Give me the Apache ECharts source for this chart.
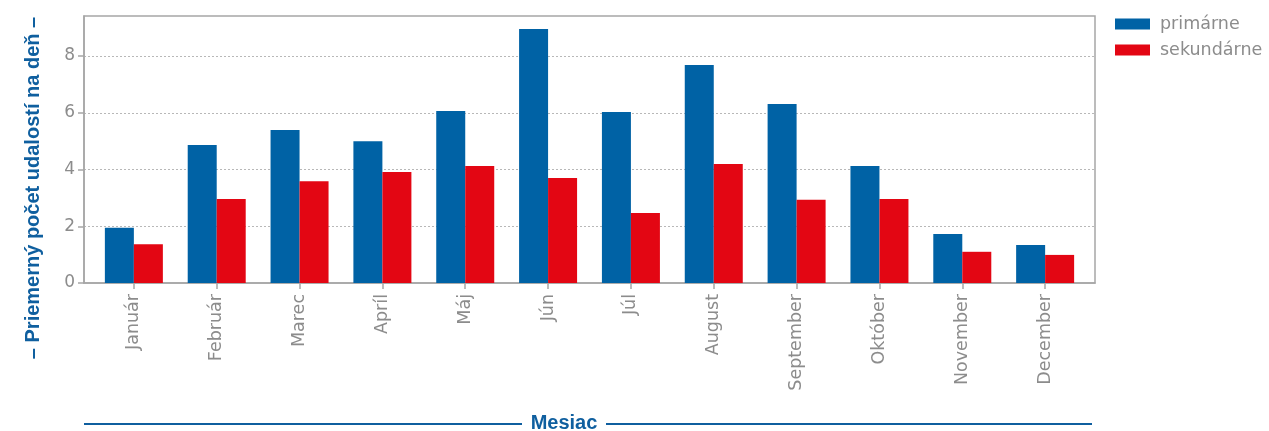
<!DOCTYPE html>
<html>
<head>
<meta charset="utf-8">
<script src="https://cdn.jsdelivr.net/npm/echarts@6/dist/echarts.min.js"></script>
<style>
html,body{margin:0;padding:0;background:#fff;}
#chart{width:1269px;height:431px;}
</style>
</head>
<body>
<div id="chart"></div>
<script>
const months = ['Január','Február','Marec','Apríl','Máj','Jún','Júl','August','September','Október','November','December'];
const primarne = [1.95, 4.86, 5.39, 5.00, 6.06, 8.95, 6.03, 7.68, 6.31, 4.12, 1.73, 1.34];
const sekundarne = [1.37, 2.96, 3.59, 3.91, 4.12, 3.70, 2.47, 4.19, 2.93, 2.96, 1.10, 0.99];
const seriesNames = ['primárne', 'sekundárne'];
const yTicks = [0, 2, 4, 6, 8];
const yTitle = '– Priemerný počet udalostí na deň –';
const xTitle = 'Mesiac';

const BLUE = '#0062a5';
const RED = '#e30613';
const TITLE = '#0f5f9f';
const GREY = '#8c8c8c';
const FRAME = '#a6a6a6';
const FONT = 'DejaVu Sans';

const chart = echarts.init(document.getElementById('chart'), null, {renderer: 'canvas'});
const idx = months.map((m, i) => i);

chart.setOption({
  animation: false,
  textStyle: {fontFamily: FONT},
  grid: {left: 84, right: 174, top: 16, bottom: 148, show: true, borderColor: FRAME, borderWidth: 1.5, containLabel: false},
  legend: {
    data: seriesNames,
    orient: 'vertical',
    left: 1110, top: 10,
    itemWidth: 35, itemHeight: 11, itemGap: 8,
    textStyle: {color: GREY, fontSize: 17.5, fontFamily: FONT, padding: [0, 0, 0, 5]},
    icon: 'rect'
  },
  xAxis: {
    type: 'value',
    min: -0.602, max: 11.602,
    axisLine: {show: true, onZero: false, lineStyle: {color: FRAME, width: 1.5}},
    axisTick: {show: true, length: 6, customValues: idx, lineStyle: {color: FRAME, width: 1.5}},
    axisLabel: {
      customValues: idx,
      rotate: 90, margin: 11,
      color: GREY, fontSize: 17.5, fontFamily: FONT,
      formatter: v => months[Math.round(v)]
    },
    splitLine: {show: false}
  },
  yAxis: {
    type: 'value',
    min: 0, max: 9.41,
    axisLine: {show: true, onZero: false, lineStyle: {color: FRAME, width: 1.5}},
    axisTick: {show: true, length: 6, customValues: yTicks, lineStyle: {color: FRAME, width: 1.5}},
    axisLabel: {customValues: yTicks, margin: 9, color: GREY, fontSize: 17, fontFamily: FONT},
    splitLine: {show: true, lineStyle: {color: '#b8b8b8', type: [2, 2], width: 1}}
  },
  series: [
    {name: seriesNames[0], type: 'bar', data: primarne.map((v, i) => [i, v]), barWidth: 29, barGap: '0%', itemStyle: {color: BLUE}},
    {name: seriesNames[1], type: 'bar', data: sekundarne.map((v, i) => [i, v]), barWidth: 29, barGap: '0%', itemStyle: {color: RED}}
  ],
  graphic: [
    {type: 'text', x: 33, y: 188, rotation: Math.PI / 2,
     style: {text: yTitle, fill: TITLE, font: 'bold 20px "Liberation Sans"', align: 'center', verticalAlign: 'middle'}},
    {type: 'text', x: 564, y: 423,
     style: {text: xTitle, fill: TITLE, font: 'bold 20px "Liberation Sans"', align: 'center', verticalAlign: 'middle'}},
    {type: 'line', shape: {x1: 84, y1: 424, x2: 522, y2: 424}, style: {stroke: TITLE, lineWidth: 2}},
    {type: 'line', shape: {x1: 606, y1: 424, x2: 1092, y2: 424}, style: {stroke: TITLE, lineWidth: 2}}
  ]
});
</script>
</body>
</html>
